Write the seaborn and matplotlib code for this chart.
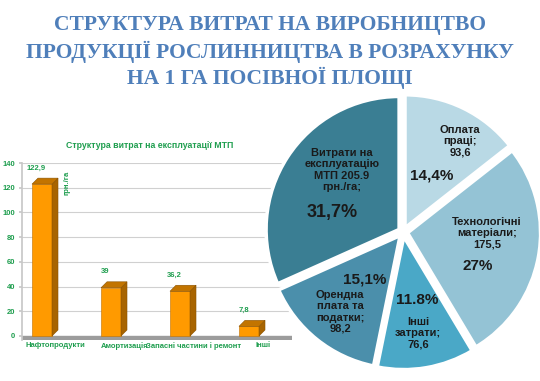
import numpy as np
import pandas as pd
import matplotlib
matplotlib.use("Agg")
import matplotlib.pyplot as plt
from matplotlib.patches import Polygon
import seaborn as sns

# ---- data ----
bar_categories = ["Нафтопродукти", "Амортизація", "Запасні частини і ремонт", "Інші"]
bar_values = [122.9, 39, 36.2, 7.8]
bar_value_labels = ["122,9", "39", "36,2", "7,8"]
y_ticks = [0, 20, 40, 60, 80, 100, 120, 140]

pie_names = ["Оплата\nпраці;\n93,6", "Технологічні\nматеріали;\n175,5", "Інші\nзатрати;\n76,6",
             "Орендна\nплата та\nподатки;\n98,2", "Витрати на\nексплуатацію\nМТП 205.9\nгрн./га;"]
pie_values = [93.6, 175.5, 76.6, 98.2, 205.9]
pie_pct = ["14,4%", "27%", "11.8%", "15,1%", "31,7%"]
pie_colors = ["#b9d9e5", "#94c3d5", "#4aa8c7", "#4b8fab", "#3a7e93"]

W, H = 540, 381
sns.set_theme(style="white")
plt.rcParams['font.family'] = ['Liberation Sans', 'DejaVu Sans']

fig = plt.figure(figsize=(W / 100, H / 100), dpi=100)
fig.patch.set_facecolor("white")

def fx(x):
    return x / W

def fy(y):
    return 1 - y / H

# ---- title ----
title_lines = ["СТРУКТУРА ВИТРАТ НА ВИРОБНИЦТВО",
               "ПРОДУКЦІЇ РОСЛИННИЦТВА В РОЗРАХУНКУ",
               "НА 1 ГА ПОСІВНОЇ ПЛОЩІ"]
for i, ln in enumerate(title_lines):
    fig.text(0.5, fy(25 + i * 26.5), ln, ha="center", va="center",
             fontsize=15.5, fontweight="bold", color="#4f7fba",
             family=["Liberation Serif", "DejaVu Serif"])

# ---- bar chart ----
green = "#1f9e4f"
ymin, ymax = -3.5, 140
y0px, y140px = 336, 163
ppu = (y0px - y140px) / 140.0
ax_bot = y0px + 3.5 * ppu
ax_left, ax_right = 22, 292
ax = fig.add_axes([fx(ax_left), fy(ax_bot), (ax_right - ax_left) / W, (ax_bot - y140px) / H])
df = pd.DataFrame({"cat": bar_categories, "val": bar_values})
sns.barplot(data=df, x="cat", y="val", ax=ax, color="#ff9a00", saturation=1,
            width=0.29, edgecolor="#c07000", linewidth=0.4, zorder=3)
bar_patches = list(ax.patches)
spacing = 69.0
xl = -(42 - ax_left) / spacing
ax.set_xlim(xl, xl + (ax_right - ax_left) / spacing)
ax.set_ylim(ymin, ymax)
ax.set_yticks(y_ticks)
ax.set_yticklabels([str(t) for t in y_ticks], fontsize=5.5, fontweight="bold", color=green)
for t in y_ticks[1:]:
    ax.axhline(t, color="#d0d0d0", lw=0.8, zorder=0)
ax.axhspan(ymin, 0, color="#9c9c9c", zorder=1)
for s in ["top", "right", "bottom"]:
    ax.spines[s].set_visible(False)
ax.spines["left"].set_color("#c8c8c8")
ax.tick_params(axis="y", length=2, pad=3, color="#c8c8c8", left=True)
ax.tick_params(axis="x", length=0, pad=1)
ax.set_xticks(np.arange(len(bar_categories)) + 0.2)
ax.set_xticklabels(bar_categories, fontsize=5.5, fontweight="bold", color=green)
ax.set_xlabel("")
ax.set_ylabel("")
ax.patch.set_alpha(0)

dx = 6 / spacing
dy = 6 / ppu
for p in bar_patches:
    x0 = p.get_x(); w = p.get_width(); h = p.get_height()
    side = Polygon([(x0 + w, 0), (x0 + w + dx, dy), (x0 + w + dx, h + dy), (x0 + w, h)],
                   closed=True, facecolor="#a86400", edgecolor="#8a5200", lw=0.4, zorder=3)
    top = Polygon([(x0, h), (x0 + dx, h + dy), (x0 + w + dx, h + dy), (x0 + w, h)],
                  closed=True, facecolor="#c27400", edgecolor="#8a5200", lw=0.4, zorder=3)
    ax.add_patch(side)
    ax.add_patch(top)

for i, (v, lab) in enumerate(zip(bar_values, bar_value_labels)):
    ax.text(i - 0.08, v + 10 / ppu + dy, lab, ha="center", va="center",
            fontsize=5.5, fontweight="bold", color=green)
ax.text(0.36, bar_values[0] + 1, "грн./га", rotation=90, ha="center", va="center",
        fontsize=5.5, fontweight="bold", color=green)

fig.text(fx(150), fy(145), "Структура витрат на експлуатації МТП", ha="center", va="center",
         fontsize=6.3, fontweight="bold", color=green)

# ---- pie ----
cx, cy, R = 403, 232, 133
half = R * 1.05
axp = fig.add_axes([fx(cx - half), fy(cy + half), 2 * half / W, 2 * half / H])
axp.pie(pie_values, colors=pie_colors, startangle=90, counterclock=False,
        explode=[0.035] * 5, wedgeprops=dict(edgecolor="white", linewidth=2.5))
axp.set_xlim(-1.05, 1.05)
axp.set_ylim(-1.05, 1.05)
axp.set_aspect("equal")
axp.axis("off")

name_pos = [(460, 141), (487, 233), (418, 333), (340, 312), (342, 170)]
pct_pos = [(432, 176), (478, 266), (417, 300), (365, 279), (332, 213)]
pct_size = [11, 11, 11, 11, 13]
for nm, (x, y) in zip(pie_names, name_pos):
    fig.text(fx(x), fy(y), nm, ha="center", va="center", fontsize=8, fontweight="bold",
             color="#1a1a1a", linespacing=1.15)
for pc, (x, y), fs in zip(pie_pct, pct_pos, pct_size):
    fig.text(fx(x), fy(y), pc, ha="center", va="center", fontsize=fs, fontweight="bold",
             color="#1a1a1a")

fig.savefig("out.png", dpi=100)
